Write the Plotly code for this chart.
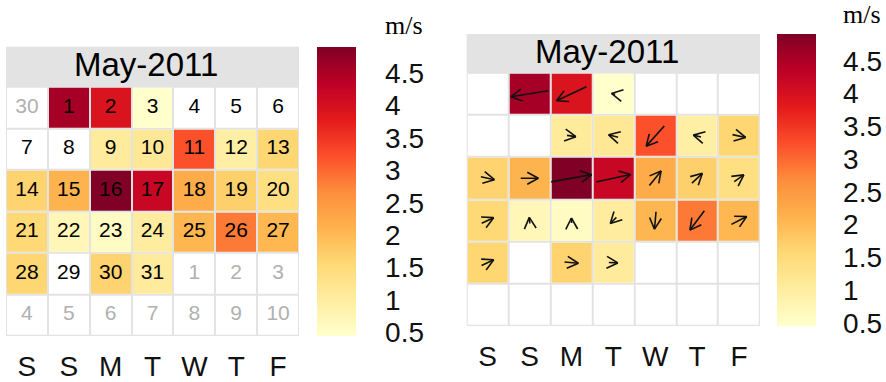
import math
import datetime as dt
import plotly.graph_objects as go

# ---------------- data ----------------
year, month = 2011, 5
month_title = "May-2011"
weekday_labels = ["S", "S", "M", "T", "W", "T", "F"]
days = list(range(1, 32))
# daily mean wind speed (m/s); None = missing
ws = [4.55, 3.93, 0.45, None, None, None, None, None, 1.07, 1.16,
      3.22, 0.94, 1.60, 1.65, 2.10, 4.91, 4.20, 2.23, 1.70, 1.40,
      1.57, 0.72, 0.58, 1.03, 2.06, 2.86, 2.05, 1.60, None, 1.65,
      1.07]
# daily mean wind direction (degrees, direction wind blows from)
wd = [81, 65, 101, None, None, None, None, None, 278, 104,
      42, 103, 282, 282, 270, 260, 258, 219, 227, 235,
      245, 175, 178, 45, 5, 37, 243, 245, None, 275,
      273]
cbar_ticks = [0.5, 1, 1.5, 2, 2.5, 3, 3.5, 4, 4.5]
cbar_ticktext = ["0.5", "1", "1.5", "2", "2.5", "3", "3.5", "4", "4.5"]
units = "m/s"

# ---------------- styling ----------------
W, H = 886, 382
ylorrd = ["#FFFFCC", "#FFEDA0", "#FED976", "#FEB24C", "#FD8D3C",
          "#FC4E2A", "#E31A1C", "#BD0026", "#800026"]
cscale = [[i / 8, c] for i, c in enumerate(ylorrd)]
vals = [v for v in ws if v is not None]
cmin, cmax = min(vals), max(vals)
sans = "Liberation Sans, Arial, sans-serif"
serif = "Liberation Serif, Times New Roman, serif"

# ---------------- calendar layout ----------------
def col_of(d):
    return (d.weekday() + 2) % 7   # Sat=0, Sun=1, Mon=2 ...

first = dt.date(year, month, 1)
off = col_of(first)
z = [[None] * 7 for _ in range(6)]
num_x, num_y, num_t, num_c = [], [], [], []
cells = {}
for k in range(42):
    d = first + dt.timedelta(days=k - off)
    r, c = k // 7, k % 7
    num_x.append(c); num_y.append(r); num_t.append(str(d.day))
    if d.month == month:
        num_c.append("#000000")
        v = ws[d.day - 1]
        z[r][c] = v
        cells[d.day] = (c, r)
    else:
        num_c.append("#B0B0B0")

base = [[1] * 7 for _ in range(6)]
white = [[0, "#FFFFFF"], [1, "#FFFFFF"]]

fig = go.Figure()

panels = [
    # (xaxis, yaxis, x0px, x1px, y0px, y1px, header_px, coloraxis)
    ("x", "y", 6, 299, 46.7, 336, 40.0, "coloraxis"),
    ("x2", "y2", 466.7, 760, 34, 326, 38.7, "coloraxis2"),
]

for i, (xa, ya, x0, x1, y0, y1, hp, cax) in enumerate(panels):
    fig.add_trace(go.Heatmap(z=base, x=list(range(7)), y=list(range(6)),
                             colorscale=white, showscale=False, xgap=2, ygap=2,
                             hoverinfo="skip", xaxis=xa, yaxis=ya))
    fig.add_trace(go.Heatmap(z=z, x=list(range(7)), y=list(range(6)),
                             coloraxis=cax, xgap=2, ygap=2,
                             xaxis=xa, yaxis=ya))

# day numbers on the left panel
fig.add_trace(go.Scatter(x=num_x, y=num_y, mode="text", text=num_t,
                         textfont=dict(family=sans, size=21, color=num_c),
                         hoverinfo="skip", showlegend=False, xaxis="x", yaxis="y"))

# wind arrows on the right panel
k_len = 0.2       # cells per m/s
barb = 0.3
ang = math.radians(28)
ax_, ay_ = [], []
for d in days:
    v, w = ws[d - 1], wd[d - 1]
    if v is None or w is None:
        continue
    c, r = cells[d]
    b = math.radians(w + 180)
    ux, uy = math.sin(b), -math.cos(b)
    L = k_len * v
    tx, ty = c - ux * L / 2, r - uy * L / 2
    hx, hy = c + ux * L / 2, r + uy * L / 2
    ax_ += [tx, hx, None]
    ay_ += [ty, hy, None]
    for s in (1, -1):
        ca, sa = math.cos(s * ang), math.sin(s * ang)
        bx = -(ux * ca - uy * sa)
        by = -(ux * sa + uy * ca)
        ax_ += [hx, hx + bx * barb, None]
        ay_ += [hy, hy + by * barb, None]
fig.add_trace(go.Scatter(x=ax_, y=ay_, mode="lines",
                         line=dict(color="#111111", width=1.6),
                         hoverinfo="skip", showlegend=False, xaxis="x2", yaxis="y2"))

layout = dict(width=W, height=H,
              margin=dict(l=0, r=0, t=0, b=0, pad=0, autoexpand=False),
              paper_bgcolor="white", plot_bgcolor="#E3E3E3",
              showlegend=False, shapes=[], annotations=[])

for i, (xa, ya, x0, x1, y0, y1, hp, cax) in enumerate(panels):
    rowh = (y1 - y0 - hp) / 6
    hdr = hp / rowh
    xkey = "xaxis" if xa == "x" else "xaxis2"
    ykey = "yaxis" if ya == "y" else "yaxis2"
    layout[xkey] = dict(domain=[x0 / W, x1 / W], range=[-0.5, 6.5],
                        tickvals=list(range(7)), ticktext=weekday_labels,
                        tickfont=dict(family=sans, size=28, color="#111111"),
                        ticks="", ticklabelstandoff=11, automargin=False,
                        showgrid=False, zeroline=False, showline=False,
                        fixedrange=True, anchor=ya)
    layout[ykey] = dict(domain=[1 - y1 / H, 1 - y0 / H],
                        range=[5.5, -0.5 - hdr], showticklabels=False,
                        showgrid=False, zeroline=False, showline=False,
                        automargin=False, fixedrange=True, anchor=xa)
    layout["shapes"].append(dict(type="rect", xref=xa, yref=ya,
                                 x0=-0.5, x1=6.5, y0=-0.5 - hdr, y1=-0.5 - 0.03,
                                 fillcolor="#E3E3E3", line=dict(width=0),
                                 layer="above"))
    layout["annotations"].append(dict(xref=xa, yref=ya, x=2.85,
                                      y=-0.5 - hdr / 2 - 0.05,
                                      text=month_title, showarrow=False,
                                      font=dict(family=sans, size=33, color="#000000"),
                                      xanchor="center", yanchor="middle"))
    layout[cax] = dict(
        colorscale=cscale, cmin=cmin, cmax=cmax,
        colorbar=dict(x=(317 if i == 0 else 777) / W, xanchor="left",
                      y=1 - y0 / H, yanchor="top",
                      len=y1 - y0, lenmode="pixels",
                      thickness=39, thicknessmode="pixels",
                      xpad=0, ypad=0, outlinewidth=0,
                      tickvals=cbar_ticks, ticktext=cbar_ticktext,
                      ticks="outside", ticklen=24 if i == 0 else 22,
                      tickcolor="rgba(0,0,0,0)",
                      tickfont=dict(family=sans, size=28, color="#111111")))
    layout["annotations"].append(dict(xref="paper", yref="paper",
                                      x=(404 if i == 0 else 862) / W,
                                      y=1 - (25 if i == 0 else 15) / H,
                                      text=units, showarrow=False,
                                      font=dict(family=serif, size=26, color="#000000"),
                                      xanchor="center", yanchor="middle"))

fig.update_layout(**layout)
fig.write_html("out.html", config={"displayModeBar": False},
               post_script="document.body.style.margin='0px';"
                           "document.body.style.overflow='hidden';")
